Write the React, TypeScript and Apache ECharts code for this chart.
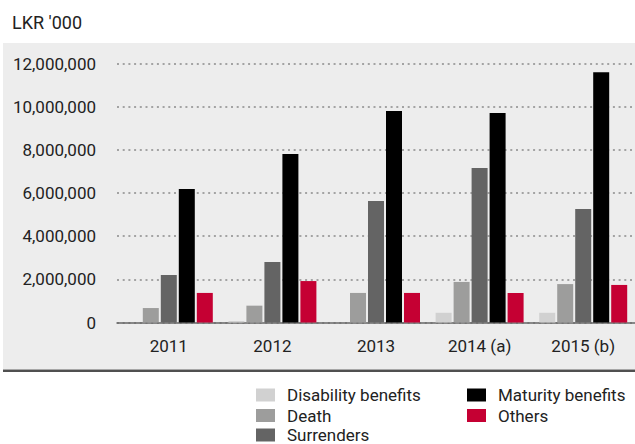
import React, { useEffect, useRef } from "react";
import * as echarts from "echarts";

const categories = ["2011", "2012", "2013", "2014 (a)", "2015 (b)"];
const disability = [0, 70000, 0, 450000, 450000];
const death = [670000, 780000, 1370000, 1880000, 1780000];
const surrenders = [2200000, 2800000, 5630000, 7160000, 5260000];
const maturity = [6180000, 7810000, 9800000, 9710000, 11600000];
const others = [1370000, 1920000, 1370000, 1370000, 1740000];

const seriesNames = ["Disability benefits", "Death", "Surrenders", "Maturity benefits", "Others"];
const seriesData = [disability, death, surrenders, maturity, others];
const colors = ["#d1d1d1", "#9d9d9c", "#646464", "#000000", "#c50033"];

const FONT = "Roboto";

// legend slot for each series: [left, row]
const legendCols = [256, 256, 256, 467, 467];
const legendRows = [0, 1, 2, 0, 1];
const rowCenters = [393, 413.5, 433];

export default function App() {
  const ref = useRef<HTMLDivElement>(null);
  useEffect(() => {
    document.body.style.margin = "0";
    const chart = echarts.init(ref.current!, null, { renderer: "svg" });
    chart.setOption({
      animation: false,
      textStyle: { fontFamily: FONT },
      graphic: [
        { type: "rect", z: -10, shape: { x: 3, y: 43, width: 632, height: 326 }, style: { fill: "#ededed" } },
        { type: "rect", z: -10, shape: { x: 3, y: 369.5, width: 632, height: 2.5 }, style: { fill: "#505050" } },
        {
          type: "text",
          left: 12,
          top: 13,
          style: { text: "LKR '000", fontSize: 18, fontFamily: FONT, fill: "#222" },
        },
      ],
      grid: { left: 117, width: 525, top: 63.5, bottom: 121.5, containLabel: false },
      legend: seriesNames.map((name, i) => ({
        data: [name],
        left: legendCols[i],
        top: rowCenters[legendRows[i]] - 6.5,
        padding: 0,
        itemWidth: 19,
        itemHeight: 13,
        icon: "rect",
        textStyle: { fontSize: 17, lineHeight: 13, color: "#222", fontFamily: FONT, padding: [0, 0, 0, 7] },
      })),
      xAxis: {
        type: "category",
        data: categories,
        axisLine: { lineStyle: { color: "#666", width: 1.5 } },
        axisTick: { show: false },
        axisLabel: { fontSize: 17, color: "#222", margin: 15, fontFamily: FONT },
      },
      yAxis: {
        type: "value",
        min: 0,
        max: 12000000,
        interval: 2000000,
        axisLine: { show: false },
        axisTick: { show: false },
        axisLabel: {
          fontSize: 17,
          color: "#222",
          margin: 21,
          fontFamily: FONT,
          padding: [0, 0, 7, 0],
          formatter: (v: number) => v.toLocaleString("en-US"),
        },
        splitLine: { lineStyle: { color: "#8a8a8a", width: 1.5, type: [2, 3.7] } },
      },
      series: seriesNames.map((name, i) => ({
        name,
        type: "bar",
        data: seriesData[i],
        barWidth: 16,
        barGap: "12.5%",
        itemStyle: { color: colors[i] },
      })),
    });
    return () => chart.dispose();
  }, []);
  return <div ref={ref} style={{ width: 635, height: 444 }} />;
}
